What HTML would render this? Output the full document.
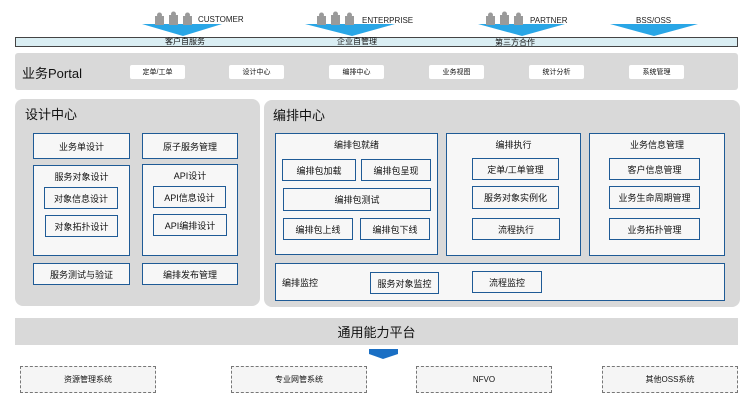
<!DOCTYPE html>
<html><head><meta charset="utf-8"><style>
body{margin:0;width:753px;height:410px;background:#fff;position:relative;overflow:hidden;font-family:"Liberation Sans","Noto Sans CJK SC",sans-serif;color:#111}
div{position:absolute;box-sizing:border-box}
.g{background:#d9d9d9;border-radius:8px}
.b{background:#f7f7f7;border:1.5px solid #1f5b96;font-size:9px;display:flex;align-items:center;justify-content:center}
.t{font-size:9px;text-align:center;width:100%;top:4px}
.w{background:#fff;border-radius:2px;font-size:7px;display:flex;align-items:center;justify-content:center;top:65px;height:14px;width:55px}
.d{border:1px dashed #777;background:#f5f5f5;font-size:8px;display:flex;align-items:center;justify-content:center;top:366px;height:27px;width:136px}
.lbl{font-size:8px;line-height:10px}
</style></head><body>
<svg width="753" height="60" style="position:absolute;left:0;top:0">
<g fill="#29a6e6">
<polygon points="142,24 222,24 183,36"/>
<polygon points="305,24 395,24 352,36"/>
<polygon points="478,24 565,24 522,36"/>
<polygon points="610,24 698,24 654,36"/>
</g>
<g fill="#9a9a9a">
<rect x="155" y="16" width="9" height="9"/><rect x="169" y="15" width="9" height="10"/><rect x="183" y="16" width="9" height="9"/>
<rect x="317" y="16" width="9" height="9"/><rect x="331" y="15" width="9" height="10"/><rect x="345" y="16" width="9" height="9"/>
<rect x="486" y="16" width="9" height="9"/><rect x="500" y="15" width="9" height="10"/><rect x="514" y="16" width="9" height="9"/>
<circle cx="159.5" cy="15" r="2.5"/><circle cx="173.5" cy="14" r="2.5"/><circle cx="187.5" cy="15" r="2.5"/>
<circle cx="321.5" cy="15" r="2.5"/><circle cx="335.5" cy="14" r="2.5"/><circle cx="349.5" cy="15" r="2.5"/>
<circle cx="490.5" cy="15" r="2.5"/><circle cx="504.5" cy="14" r="2.5"/><circle cx="518.5" cy="15" r="2.5"/>
</g>
<g font-size="8" fill="#222" font-family="Liberation Sans,sans-serif">
<text x="198" y="22">CUSTOMER</text><text x="362" y="23">ENTERPRISE</text><text x="530" y="23">PARTNER</text><text x="636" y="23">BSS/OSS</text>
</g>
</svg>
<div style="left:15px;top:37px;width:723px;height:10px;background:#daeef3;border:1px solid #444"></div>
<div class="lbl" style="left:160px;top:37px;width:50px;text-align:center">客户自服务</div>
<div class="lbl" style="left:332px;top:37px;width:50px;text-align:center">企业自管理</div>
<div class="lbl" style="left:490px;top:38px;width:50px;text-align:center">第三方合作</div>

<div class="g" style="left:15px;top:53px;width:723px;height:37px;border-radius:3px"></div>
<div style="left:22px;top:63px;font-size:13px">业务Portal</div>
<div class="w" style="left:130px">定单/工单</div>
<div class="w" style="left:229px">设计中心</div>
<div class="w" style="left:329px">编排中心</div>
<div class="w" style="left:429px">业务视图</div>
<div class="w" style="left:529px">统计分析</div>
<div class="w" style="left:629px">系统管理</div>

<div class="g" style="left:15px;top:99px;width:245px;height:207px"></div>
<div style="left:25px;top:104px;font-size:13px">设计中心</div>
<div class="b" style="left:33px;top:133px;width:97px;height:26px">业务单设计</div>
<div class="b" style="left:142px;top:133px;width:96px;height:26px">原子服务管理</div>
<div class="b" style="left:33px;top:165px;width:97px;height:91px"><div class="t">服务对象设计</div></div>
<div class="b" style="left:44px;top:187px;width:74px;height:22px">对象信息设计</div>
<div class="b" style="left:45px;top:215px;width:73px;height:22px">对象拓扑设计</div>
<div class="b" style="left:142px;top:164px;width:96px;height:92px"><div class="t">API设计</div></div>
<div class="b" style="left:153px;top:186px;width:73px;height:22px">API信息设计</div>
<div class="b" style="left:153px;top:214px;width:74px;height:22px">API编排设计</div>
<div class="b" style="left:33px;top:263px;width:97px;height:22px">服务测试与验证</div>
<div class="b" style="left:142px;top:263px;width:96px;height:22px">编排发布管理</div>

<div class="g" style="left:264px;top:100px;width:476px;height:207px"></div>
<div style="left:273px;top:105px;font-size:13px">编排中心</div>
<div class="b" style="left:275px;top:133px;width:163px;height:122px"><div class="t">编排包就绪</div></div>
<div class="b" style="left:282px;top:159px;width:74px;height:22px">编排包加载</div>
<div class="b" style="left:361px;top:159px;width:70px;height:22px">编排包呈现</div>
<div class="b" style="left:283px;top:188px;width:148px;height:23px">编排包测试</div>
<div class="b" style="left:283px;top:218px;width:70px;height:22px">编排包上线</div>
<div class="b" style="left:360px;top:218px;width:70px;height:22px">编排包下线</div>
<div class="b" style="left:446px;top:133px;width:135px;height:123px"><div class="t">编排执行</div></div>
<div class="b" style="left:472px;top:158px;width:87px;height:22px">定单/工单管理</div>
<div class="b" style="left:472px;top:186px;width:87px;height:23px">服务对象实例化</div>
<div class="b" style="left:472px;top:218px;width:88px;height:22px">流程执行</div>
<div class="b" style="left:589px;top:133px;width:136px;height:123px"><div class="t">业务信息管理</div></div>
<div class="b" style="left:609px;top:158px;width:91px;height:22px">客户信息管理</div>
<div class="b" style="left:609px;top:186px;width:91px;height:23px">业务生命周期管理</div>
<div class="b" style="left:609px;top:218px;width:91px;height:22px">业务拓扑管理</div>
<div class="b" style="left:275px;top:263px;width:450px;height:38px;justify-content:flex-start;padding-left:6px">编排监控</div>
<div class="b" style="left:370px;top:272px;width:69px;height:22px">服务对象监控</div>
<div class="b" style="left:472px;top:271px;width:70px;height:22px">流程监控</div>

<div style="left:15px;top:318px;width:723px;height:27px;background:#d9d9d9;font-size:13px;display:flex;align-items:center;justify-content:center">通用能力平台</div>
<svg width="753" height="20" style="position:absolute;left:0;top:345px"><polygon points="369,4 398,4 398,9 383,14 369,9" fill="#1a6fc4"/></svg>
<div class="d" style="left:20px">资源管理系统</div>
<div class="d" style="left:231px">专业网管系统</div>
<div class="d" style="left:416px">NFVO</div>
<div class="d" style="left:602px">其他OSS系统</div>
</body></html>
